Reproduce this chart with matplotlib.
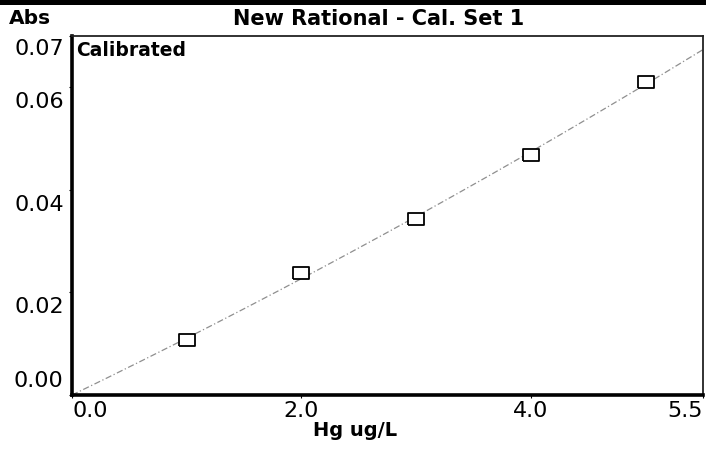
import numpy as np
import matplotlib
matplotlib.use("Agg")
import matplotlib.pyplot as plt
from matplotlib.patches import Rectangle
from matplotlib.transforms import ScaledTranslation

# Data
conc = [1.0, 2.0, 3.0, 4.0, 5.0]
absorb = [0.0108, 0.0238, 0.0343, 0.0468, 0.0610]
xticks = [0.0, 2.0, 4.0, 5.5]
xtick_labels = ["0.0", "2.0", "4.0", "5.5"]
yticks = [0.00, 0.02, 0.04, 0.06, 0.07]
ytick_labels = ["0.00", "0.02", "0.04", "0.06", "0.07"]
title = "New Rational - Cal. Set 1"

plt.rcParams['font.family'] = ['DejaVu Sans']

W, H = 706, 457
fig = plt.figure(figsize=(W / 100, H / 100), dpi=100)
ax = fig.add_axes([72 / W, 1 - 395 / H, (703 - 72) / W, (395 - 36) / H])

# fitted calibration curve through origin (quadratic, least squares)
xa = np.array(conc)
ya = np.array(absorb)
A = np.vstack([xa, xa ** 2]).T
coef, *_ = np.linalg.lstsq(A, ya, rcond=None)
xs = np.linspace(0, 5.5, 200)
ys = coef[0] * xs + coef[1] * xs ** 2
ax.plot(xs, ys, color='#8f8f8f', lw=0.9, linestyle=(0, (5, 2, 1, 2)), zorder=2)

rect = [(-1.35, -1), (1.35, -1), (1.35, 1), (-1.35, 1), (-1.35, -1)]
ax.plot(conc, absorb, linestyle='none', marker=rect, markersize=11,
        markerfacecolor='white', markeredgecolor='black', markeredgewidth=1.3, zorder=3)

ax.set_xlim(0, 5.5)
ax.set_ylim(0, 0.07)

ax.set_xticks(xticks)
ax.set_xticklabels(xtick_labels, fontsize=16)
ax.set_yticks(yticks)
ax.set_yticklabels(ytick_labels, fontsize=16)
ax.tick_params(axis='both', direction='out', length=2, width=0.8, colors='black')
ax.tick_params(axis='x', pad=2)
ax.tick_params(axis='y', pad=4)

xl = ax.get_xticklabels()
xl[0].set_ha('left')
xl[-1].set_ha('right')
down = ScaledTranslation(0, -5 / 100, fig.dpi_scale_trans)
up = ScaledTranslation(0, 4 / 100, fig.dpi_scale_trans)
ylabs = ax.get_yticklabels()
for lab in ylabs[1:-1]:
    lab.set_va('top')
    lab.set_transform(lab.get_transform() + down)
ylabs[-1].set_va('top')
ylabs[-1].set_transform(ylabs[-1].get_transform() + ScaledTranslation(0, -3 / 100, fig.dpi_scale_trans))
ylabs[0].set_va('bottom')
ylabs[0].set_transform(ylabs[0].get_transform() + up)

for s in ['left', 'bottom']:
    ax.spines[s].set_linewidth(2.6)
    ax.spines[s].set_color('black')
for s in ['top', 'right']:
    ax.spines[s].set_linewidth(1.3)
    ax.spines[s].set_color('#222222')

ax.text(0.007, 0.985, "Calibrated", transform=ax.transAxes, ha='left', va='top',
        fontsize=13.5, fontweight='bold')

fig.text(9 / W, 1 - 19 / H, "Abs", ha='left', va='center', fontsize=14.5, fontweight='bold')
fig.text(379 / W, 1 - 19 / H, title, ha='center', va='center', fontsize=15, fontweight='bold')
fig.text(355 / W, 1 - 431 / H, "Hg ug/L", ha='center', va='center', fontsize=14, fontweight='bold')

fig.patches.append(Rectangle((0, 1 - 5 / H), 1, 5 / H, transform=fig.transFigure,
                             facecolor='black', edgecolor='none'))

fig.savefig("out.png", dpi=100, facecolor='white')
